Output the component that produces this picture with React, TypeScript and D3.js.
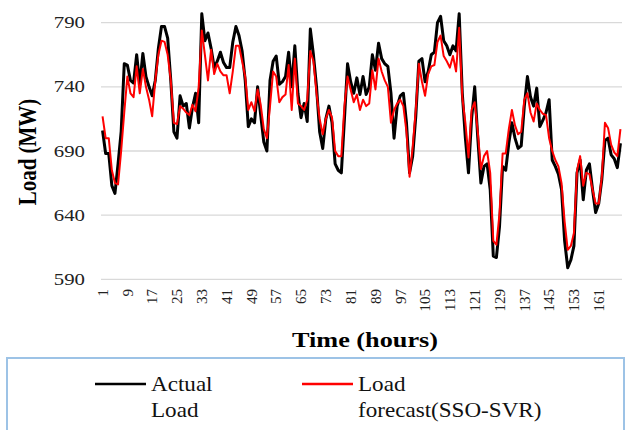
import * as d3 from 'd3'

// hourly load, MW
const ACTUAL = [
  706, 688, 688, 663, 657, 680, 705, 758, 757, 745, 743, 765, 742, 766, 748, 740,
  733, 745, 770, 787, 787, 778, 745, 705, 700, 733, 725, 727, 708, 724, 735, 712,
  797, 776, 782, 770, 755, 760, 767, 759, 755, 755, 775, 787, 780, 768, 745, 709,
  715, 712, 740, 718, 697, 690, 745, 760, 764, 742, 744, 748, 767, 740, 772, 735,
  716, 727, 713, 785, 765, 740, 705, 692, 715, 725, 712, 680, 675, 673, 715, 758,
  744, 735, 747, 734, 748, 734, 740, 765, 753, 774, 762, 758, 756, 735, 700, 725,
  733, 735, 712, 673, 686, 717, 760, 762, 744, 752, 765, 767, 790, 795, 776, 772,
  765, 772, 768, 797, 735, 700, 673, 715, 740, 700, 665, 678, 680, 660, 608, 607,
  631, 678, 675, 696, 712, 700, 692, 694, 725, 748, 732, 725, 739, 709, 714, 720,
  730, 683, 678, 672, 660, 620, 599, 605, 616, 673, 683, 652, 675, 680, 660, 642,
  649, 668, 698, 700, 687, 684, 677, 696,
]

const FORECAST = [
  717, 700, 700, 675, 665, 664, 690, 720, 748, 735, 732, 756, 735, 754, 740, 730,
  717, 745, 765, 776, 775, 765, 745, 712, 711, 725, 723, 720, 718, 726, 721, 740,
  784, 765, 745, 769, 750, 758, 752, 749, 749, 735, 752, 772, 772, 760, 748, 722,
  728, 721, 738, 726, 707, 700, 725, 752, 748, 728, 732, 734, 757, 722, 762, 727,
  725, 722, 730, 768, 760, 735, 715, 703, 715, 722, 716, 690, 686, 686, 725, 748,
  738, 728, 734, 722, 730, 725, 727, 753, 738, 762, 752, 745, 740, 712, 722, 727,
  730, 725, 705, 670, 693, 722, 758, 744, 733, 750, 756, 757, 775, 780, 764, 760,
  755, 764, 752, 786, 732, 712, 685, 722, 728, 705, 676, 686, 690, 673, 620, 617,
  641, 688, 688, 707, 722, 710, 703, 705, 730, 735, 720, 713, 727, 722, 719, 718,
  700, 690, 683, 678, 665, 635, 613, 616, 626, 675, 686, 663, 673, 672, 660, 649,
  649, 670, 712, 708, 695, 689, 686, 707,
]

const Y_TICKS = [590, 640, 690, 740, 790]
const SERIES_NAMES = [['Actual', 'Load'], ['Load', 'forecast(SSO-SVR)']]
const SERIES_COLORS = ['#000000', '#ff0000']

const FONT = '"Liberation Serif", "Times New Roman", serif'

export default function App() {
  const n = ACTUAL.length
  const x = d3.scaleLinear().domain([0.5, n + 0.5]).range([101, 622])
  const y = d3.scaleLinear().domain([590, 790]).range([279.3, 22.7])
  const line = d3.line<number>().x((_, i) => x(i + 1)).y((d) => y(d))
  const xTicks = d3.range(1, n + 1, 8)

  return (
    <svg width={627} height={430} style={{ position: 'absolute', left: 0, top: 0, background: '#fff' }} fontFamily={FONT}>
      {/* grid + y labels */}
      {Y_TICKS.map((t) => (
        <g key={t}>
          <line x1={101} x2={622} y1={y(t)} y2={y(t)} stroke="#d9d9d9" strokeWidth={1.3} />
          <text transform={`translate(85,${y(t)}) scale(1.3,1)`} dy="0.35em" textAnchor="end" fontSize={16} fill="#222">
            {t}
          </text>
        </g>
      ))}

      {/* x labels, rotated */}
      {xTicks.map((t) => (
        <text key={t} transform={`translate(${x(t)},289) rotate(-90)`} dy="0.35em" textAnchor="end" fontSize={15} fill="#222">
          {t}
        </text>
      ))}

      {/* series */}
      <path d={line(ACTUAL) ?? ''} fill="none" stroke={SERIES_COLORS[0]} strokeWidth={3} strokeLinejoin="round" />
      <path d={line(FORECAST) ?? ''} fill="none" stroke={SERIES_COLORS[1]} strokeWidth={2} strokeLinejoin="round" />

      {/* axis titles */}
      <text transform="translate(28,152) scale(1.15,1) rotate(-90)" dy="0.35em" textAnchor="middle" fontSize={21} fontWeight="bold">
        Load (MW)
      </text>
      <text transform="translate(365,347) scale(1.25,1)" textAnchor="middle" fontSize={21} fontWeight="bold">
        Time (hours)
      </text>

      {/* legend */}
      <rect x={7} y={358} width={617} height={100} fill="none" stroke="#9dc3e6" strokeWidth={2} />
      {SERIES_NAMES.map((lines, k) => {
        const lx = k === 0 ? 95 : 302
        return (
          <g key={k}>
            <line x1={lx} x2={lx + 51} y1={384} y2={384} stroke={SERIES_COLORS[k]} strokeWidth={2.5} />
            {lines.map((s, j) => (
              <text key={j} transform={`translate(${lx + 56},${391 + j * 26}) scale(1.1,1)`} fontSize={21} fill="#111">
                {s}
              </text>
            ))}
          </g>
        )
      })}
    </svg>
  )
}
